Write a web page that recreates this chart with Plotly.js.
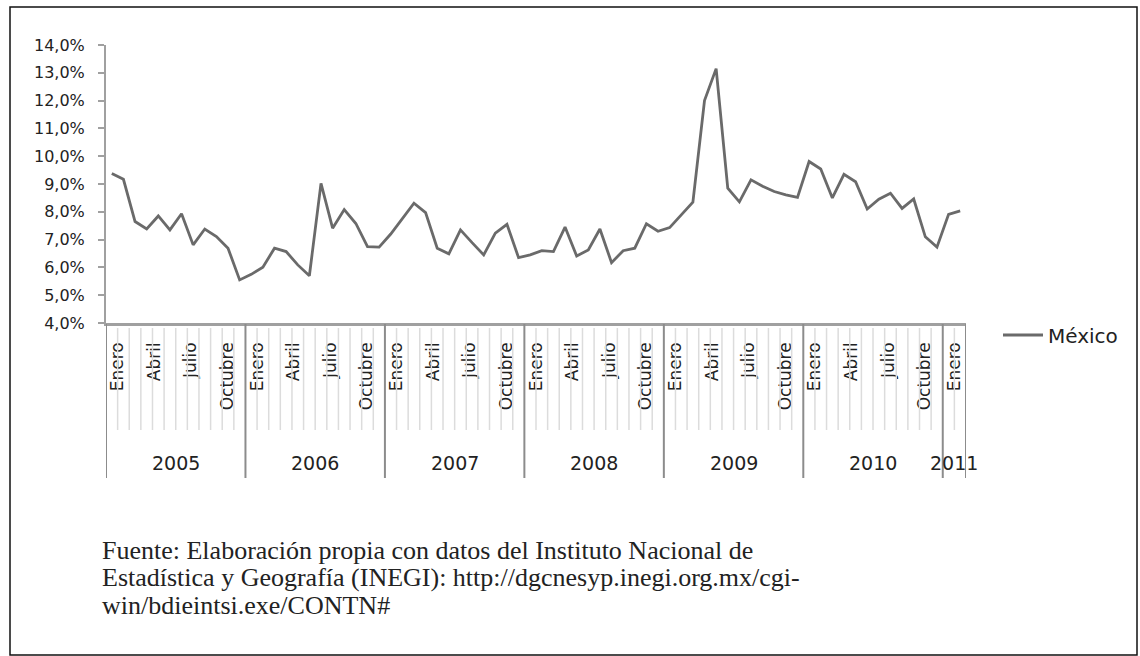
<!DOCTYPE html>
<html><head><meta charset="utf-8">
<script src="https://cdn.plot.ly/plotly-3.0.1.min.js"></script>
<style>html,body{margin:0;padding:0;background:#fff;} #chart{width:1140px;height:656px;}</style>
</head><body><div id="chart"></div>
<script>
// ---- data ----
const years = ["2005","2006","2007","2008","2009","2010","2011"];
const monthsInYear = [12,12,12,12,12,12,2];
const monthNames = ["Enero","Febrero","Marzo","Abril","Mayo","Junio","Julio","Agosto","Septiembre","Octubre","Noviembre","Diciembre"];
const labeledMonths = ["Enero","Abril","Julio","Octubre"];
const seriesName = "México";
const values = [
  9.38, 9.17, 7.65, 7.38, 7.85, 7.35, 7.93, 6.81, 7.38, 7.11, 6.69, 5.55,
  5.75, 6.01, 6.69, 6.57, 6.09, 5.70, 9.02, 7.41, 8.08, 7.58, 6.75, 6.73,
  7.20, 7.77, 8.31, 7.97, 6.69, 6.49, 7.35, 6.89, 6.45, 7.23, 7.55, 6.35,
  6.45, 6.60, 6.57, 7.45, 6.41, 6.63, 7.38, 6.17, 6.60, 6.69, 7.57, 7.30,
  7.43, 7.89, 8.35, 12.00, 13.15, 8.85, 8.36, 9.15, 8.92, 8.73, 8.61, 8.52,
  9.81, 9.54, 8.50, 9.35, 9.08, 8.10, 8.45, 8.67, 8.12, 8.46, 7.10, 6.73,
  7.91, 8.03
];
const yTickVals = [4,5,6,7,8,9,10,11,12,13,14];
const yTickText = ["4,0%","5,0%","6,0%","7,0%","8,0%","9,0%","10,0%","11,0%","12,0%","13,0%","14,0%"];
const sourceLines = [
  "Fuente: Elaboración propia con datos del Instituto Nacional de",
  "Estadística y Geografía (INEGI): http://dgcnesyp.inegi.org.mx/cgi-",
  "win/bdieintsi.exe/CONTN#"
];

// ---- geometry helpers (pixel -> paper) ----
const L = 106, R = 966, T = 45, B = 323;
const W = 1140, H = 656;
const px = p => (p - L) / (R - L);
const py = p => (B - p) / (B - T);

// ---- build x positions ----
const xIdx = values.map((_, i) => i);
const hoverLabels = [];
const yearStart = [];
let s = 0;
years.forEach((y, k) => {
  yearStart.push(s);
  for (let m = 0; m < monthsInYear[k]; m++) hoverLabels.push(monthNames[m] + " " + y);
  s += monthsInYear[k];
});
const total = s;

const tickvals = [], ticktext = [];
years.forEach((y, k) => {
  for (let m = 0; m < monthsInYear[k]; m++) {
    if (labeledMonths.includes(monthNames[m])) {
      tickvals.push(yearStart[k] + m + 0.5 + m * 0.05);
      ticktext.push(monthNames[m]);
    }
  }
});

const shapes = [];
// outer frame
shapes.push({type:'rect', xref:'paper', yref:'paper', x0:px(10), x1:px(1137), y0:py(655), y1:py(7),
  line:{color:'#111', width:1.5}, fillcolor:'rgba(0,0,0,0)', layer:'below'});
// month separators (light)
years.forEach((y, k) => {
  for (let m = 1; m < monthsInYear[k]; m++) {
    const xv = yearStart[k] + m - 0.5;
    shapes.push({type:'line', xref:'x', yref:'paper', x0:xv, x1:xv, y0:py(328), y1:py(430),
      line:{color:'#dcdcdc', width:1.5}});
  }
});
// year separators
yearStart.concat([total]).forEach(st => {
  const xv = st - 0.5;
  shapes.push({type:'line', xref:'x', yref:'paper', x0:xv, x1:xv, y0:py(324), y1:py(478),
    line:{color:'#8c8c8c', width:2}});
});

const annotations = [];
years.forEach((y, k) => {
  annotations.push({xref:'x', yref:'paper', x: yearStart[k] + (monthsInYear[k]-1)/2, y: py(463),
    text: y, showarrow:false, xanchor:'center', yanchor:'middle',
    font:{family:'DejaVu Sans', size:19, color:'#222'}});
});
sourceLines.forEach((t, i) => {
  annotations.push({xref:'paper', yref:'paper', x: px(100), y: py(550 + i*27.5), text: t,
    showarrow:false, xanchor:'left', yanchor:'middle',
    font:{family:'Liberation Serif', size:26, color:'#222'}});
});

const trace = {
  x: xIdx, y: values, type:'scatter', mode:'lines', name: seriesName,
  text: hoverLabels, hovertemplate:'%{text}: %{y:.1f}%<extra></extra>',
  line:{color:'#6a6a6a', width:2.8}
};

const layout = {
  width: W, height: H,
  margin:{l:L, r:W-R, t:T, b:H-B, pad:0},
  paper_bgcolor:'#fff', plot_bgcolor:'#fff',
  showlegend:true,
  legend:{x:px(998), y:py(335), xanchor:'left', yanchor:'middle', bgcolor:'rgba(0,0,0,0)',
    font:{family:'DejaVu Sans', size:20, color:'#222'}, itemwidth:40},
  xaxis:{range:[-0.5, total-0.5], showline:true, linecolor:'#a0a0a0', linewidth:2.5,
    ticks:'', tickvals:tickvals, ticktext:ticktext, tickangle:-90,
    tickfont:{family:'DejaVu Sans', size:17, color:'#222'},
    showgrid:false, zeroline:false, ticklabelstandoff:10, fixedrange:true},
  yaxis:{range:[4,14], tickvals:yTickVals, ticktext:yTickText, ticks:'outside', ticklen:6,
    tickcolor:'#a0a0a0', tickwidth:2, showline:true, linecolor:'#a0a0a0', linewidth:2,
    showgrid:false, zeroline:false, ticklabelstandoff:10,
    tickfont:{family:'DejaVu Sans', size:16, color:'#222'}, fixedrange:true},
  shapes: shapes,
  annotations: annotations
};

Plotly.newPlot('chart', [trace], layout, {displayModeBar:false, staticPlot:true});
</script>
</body></html>
